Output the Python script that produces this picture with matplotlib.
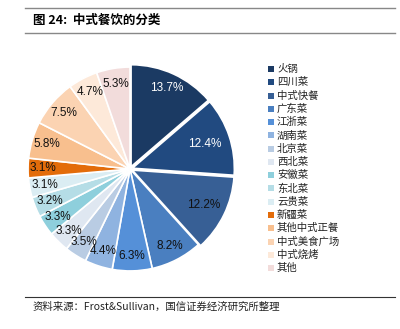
import matplotlib
matplotlib.use("Agg")
import matplotlib.pyplot as plt
from matplotlib.patches import Rectangle
from matplotlib.lines import Line2D

categories = ["火锅", "四川菜", "中式快餐", "广东菜", "江浙菜", "湖南菜", "北京菜", "西北菜",
              "安徽菜", "东北菜", "云贵菜", "新疆菜", "其他中式正餐", "中式美食广场", "中式烧烤", "其他"]
values = [13.7, 12.4, 12.2, 8.2, 6.3, 4.4, 3.5, 3.3, 3.3, 3.2, 3.1, 3.1, 5.8, 7.5, 4.7, 5.3]
colors = ["#1b3a63", "#214a80", "#375f95", "#4a7fc0", "#5590d8", "#8fb3e0", "#b9cce3", "#dfe7f1",
          "#8ecfdc", "#b5dde6", "#dbedf3", "#e36c0a", "#f8bf8e", "#fbd3b2", "#fde9d9", "#f2dcdb"]
label_colors = ["white", "white"] + ["#111111"] * 14
explode = [0.025, 0.025, 0.025] + [0.0] * 13
# radial scaling of a few labels relative to the default pctdistance
label_scale = [1.0, 0.88, 0.92] + [1.0] * 13

plt.rcParams['font.family'] = ['Noto Sans CJK SC', 'DejaVu Sans']

fig = plt.figure(figsize=(4.0, 3.29), dpi=100)
W, H = 400, 329

ax = fig.add_axes([25 / W, 1 - 274 / H, 210 / W, 210 / H])
wedges, texts, autotexts = ax.pie(values, colors=colors, startangle=90, counterclock=False,
                                  explode=explode, autopct='%1.1f%%', pctdistance=0.85,
                                  wedgeprops=dict(edgecolor='white', linewidth=1.2),
                                  textprops=dict(fontsize=8.5, family=['Liberation Sans', 'DejaVu Sans']))
for t, c, s in zip(autotexts, label_colors, label_scale):
    t.set_color(c)
    x, y = t.get_position()
    t.set_position((x * s, y * s))
ax.set_xlim(-1.03, 1.03)
ax.set_ylim(-1.03, 1.03)
ax.set_aspect('equal')

# Title and rules
fig.add_artist(Line2D([25 / W, 395 / W], [1 - 8 / H, 1 - 8 / H], color='#888888', lw=1.0))
fig.add_artist(Line2D([25 / W, 395 / W], [1 - 33 / H, 1 - 33 / H], color='#888888', lw=1.0))
fig.text(33 / W, 1 - 20 / H, "图 24:  中式餐饮的分类", fontsize=9, fontweight='bold',
         va='center', ha='left', family=['Noto Sans CJK SC', 'DejaVu Sans'])

# Legend
y0 = 69
dy = 13.27
for i, (cat, col) in enumerate(zip(categories, colors)):
    y = y0 + i * dy
    fig.add_artist(Rectangle((268 / W, 1 - (y + 3) / H), 6 / W, 6 / H, facecolor=col,
                             edgecolor='none', transform=fig.transFigure))
    fig.text(277 / W, 1 - y / H, cat, fontsize=7.5, va='center', ha='left', color='#222222')

# Footer
fig.add_artist(Line2D([25 / W, 395 / W], [1 - 297 / H, 1 - 297 / H], color='#333333', lw=0.8))
fig.text(33 / W, 1 - 307 / H, "资料来源：Frost&Sullivan，国信证券经济研究所整理", fontsize=7.5,
         va='center', ha='left', color='#222222')

fig.savefig("out.png", dpi=100)
